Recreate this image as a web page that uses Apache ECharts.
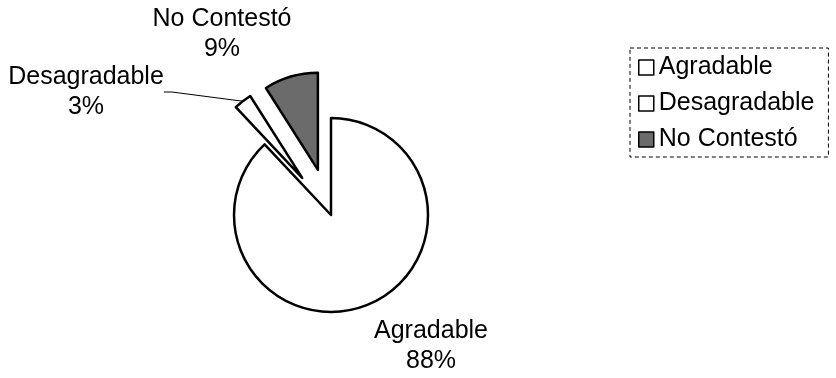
<!DOCTYPE html>
<html><head><meta charset="utf-8">
<script src="https://cdn.jsdelivr.net/npm/echarts@6/dist/echarts.min.js"></script>
<style>html,body{margin:0;padding:0;background:#fff}#c{width:836px;height:378px}</style>
</head><body><div id="c"></div>
<script>
const categories = ['Agradable', 'Desagradable', 'No Contestó'];
const percents = [88, 3, 9];
const exploded = [false, true, true];
const fills = ['#ffffff', '#ffffff', '#6b6b6b'];

const chart = echarts.init(document.getElementById('c'), null, {renderer: 'canvas'});
const FONT = 'Liberation Sans, Arial, sans-serif';
const CENTER = [331, 215], RADIUS = 97, EXPLODE = 47;
const labelPos = [[431, 346], [86, 92], [222, 34]];
const total = percents.reduce((a, b) => a + b, 0);

// one pie series per slice so each exploded slice can be offset along its own mid-angle
let cum = 0;
const series = categories.map((name, k) => {
  const mid = (cum + percents[k] / 2) / total * 2 * Math.PI;
  cum += percents[k];
  const d = exploded[k] ? EXPLODE : 0;
  const c = [CENTER[0] + d * Math.sin(mid), CENTER[1] - d * Math.cos(mid)];
  const data = categories.map((n, i) => i === k ? {
    name: n, value: percents[i],
    itemStyle: {color: fills[i], borderColor: '#000', borderWidth: 2.5},
    label: {show: true},
    labelLine: {show: i === 1, length: 8, length2: 8, lineStyle: {color: '#000', width: 1}}
  } : {
    name: '_' + i, value: percents[i],
    itemStyle: {color: 'rgba(0,0,0,0)', borderWidth: 0},
    label: {show: false}, labelLine: {show: false}
  });
  return {
    type: 'pie', center: c, radius: RADIUS,
    startAngle: 90, clockwise: true,
    avoidLabelOverlap: false, silent: true,
    emphasis: {disabled: true},
    label: {
      position: 'outside',
      formatter: p => p.name + '\n' + p.value + '%',
      fontFamily: FONT, fontSize: 25, color: '#000', lineHeight: 30, align: 'center'
    },
    labelLayout: function (p) {
      const q = labelPos[k];
      return {x: q[0], y: q[1], align: 'center', verticalAlign: 'middle'};
    },
    data: data
  };
});

chart.setOption({
  animation: false,
  legend: {
    orient: 'vertical', left: 630, top: 48, itemGap: 11,
    itemWidth: 15, itemHeight: 15, icon: 'rect',
    padding: [7, 14, 5, 8],
    borderColor: '#000', borderWidth: 1, borderType: [4, 3],
    textStyle: {fontFamily: FONT, fontSize: 25, color: '#000'},
    itemStyle: {borderColor: '#000', borderWidth: 1.5},
    data: categories
  },
  series: series
});
</script></body></html>
